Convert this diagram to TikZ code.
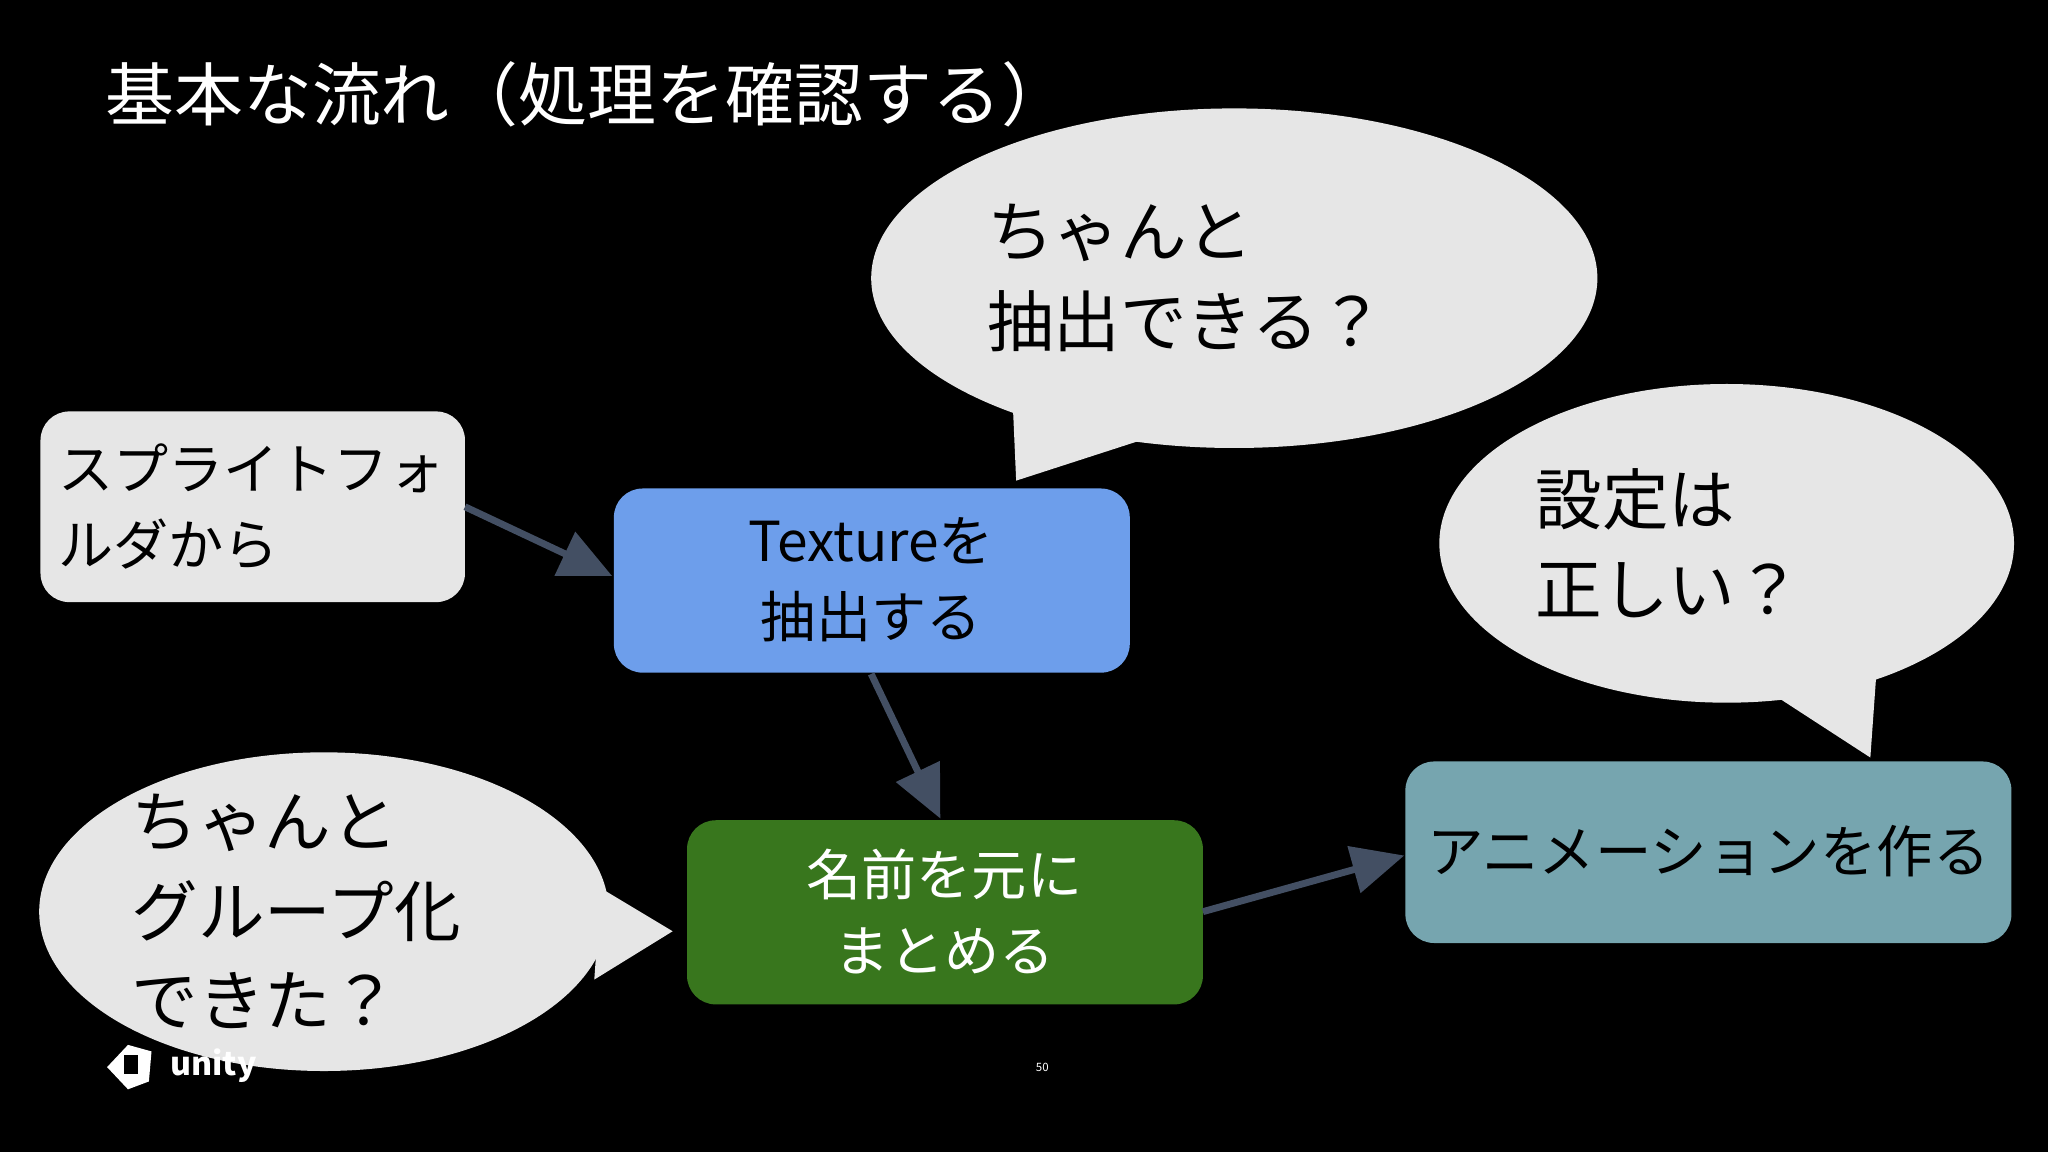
\documentclass[tikz,border=0pt]{standalone}
\usepackage{fontspec}
\setmainfont{Noto Sans CJK JP}
\usetikzlibrary{arrows.meta,shapes.geometric}
\definecolor{bub}{HTML}{E6E6E6}
\definecolor{arr}{HTML}{434F63}
\definecolor{bluebox}{HTML}{6D9EEB}
\definecolor{greenbox}{HTML}{38761D}
\definecolor{tealbox}{HTML}{76A5AF}
\tikzset{
  conn/.style={arr,line width=1.5pt,-{Triangle[length=0.4cm,width=0.36cm]}},
  btxt/.style={align=left,anchor=west,inner sep=0pt,text=black,font=\fontsize{14.5pt}{19.5pt}\selectfont},
}
\begin{document}
\begin{tikzpicture}[x=0.01cm,y=-0.01cm]
\fill[black] (0,0) rectangle (1568,882);
\useasboundingbox (0,0) rectangle (1568,882);
\node[anchor=west,inner sep=0pt,text=white,font=\fontsize{15pt}{18pt}\selectfont] (title) at (80,72) {基本な流れ（処理を確認する）};
% bubbles
\fill[bub] (945,213) ellipse [x radius=278, y radius=130];
\fill[bub] (775,300) -- (778,368) -- (880,335) -- cycle;
\node[btxt] (b1) at (755,213) {ちゃんと\\抽出できる？};
\fill[bub] (1322,416) ellipse [x radius=220, y radius=122];
\fill[bub] (1355,530) -- (1432,580) -- (1437,510) -- cycle;
\node[btxt] (b2) at (1175,416) {設定は\\正しい？};
\fill[bub] (248,698) ellipse [x radius=218, y radius=122];
\fill[bub] (460,680) -- (515,713) -- (455,750) -- cycle;
\node[btxt] (b3) at (100,698) {ちゃんと\\グループ化\\できた？};
% boxes
\fill[bub,rounded corners=0.22cm] (31,315) rectangle (356,461);
\coordinate (sfE) at (356,388);
\node[anchor=west,inner sep=0pt,align=left,font=\fontsize{12pt}{16.5pt}\selectfont] (sft) at (44,388) {スプライトフォ\\ルダから};
\fill[bluebox,rounded corners=0.22cm] (470,374) rectangle (865,515);
\node[align=center,font=\fontsize{12pt}{16.5pt}\selectfont,minimum width=3.95cm,minimum height=1.41cm] (tex) at (667,444) {Textureを\\抽出する};
\fill[greenbox,rounded corners=0.22cm] (526,628) rectangle (921,769);
\node[align=center,text=white,font=\fontsize{12pt}{16.5pt}\selectfont,minimum width=3.95cm,minimum height=1.41cm] (grp) at (723,698) {名前を元に\\まとめる};
\fill[tealbox,rounded corners=0.22cm] (1076,583) rectangle (1540,722);
\node[font=\fontsize{12.3pt}{16pt}\selectfont,minimum width=4.64cm,minimum height=1.39cm] (ani) at (1308,652) {アニメーションを作る};
% connectors
\draw[conn] (sfE) -- (tex.west |- 0,441);
\draw[conn] (667,516) -- (grp.north -| 720,0);
\draw[conn] (921,698) -- (ani.west |- 0,655);
% logo
\fill[white] (82,817) -- (98,800) -- (116,805) -- (114,828) -- (98,834) -- cycle;
\fill[black] (95,808) -- (106,808) -- (106,822) -- (95,822) -- cycle;
\node[anchor=west,text=white,font=\bfseries\fontsize{7pt}{8pt}\selectfont] (unity) at (118,816) {unity};
\node[text=white,font=\fontsize{2.5pt}{3pt}\selectfont] (pg) at (798,817) {50};
\end{tikzpicture}
\end{document}
